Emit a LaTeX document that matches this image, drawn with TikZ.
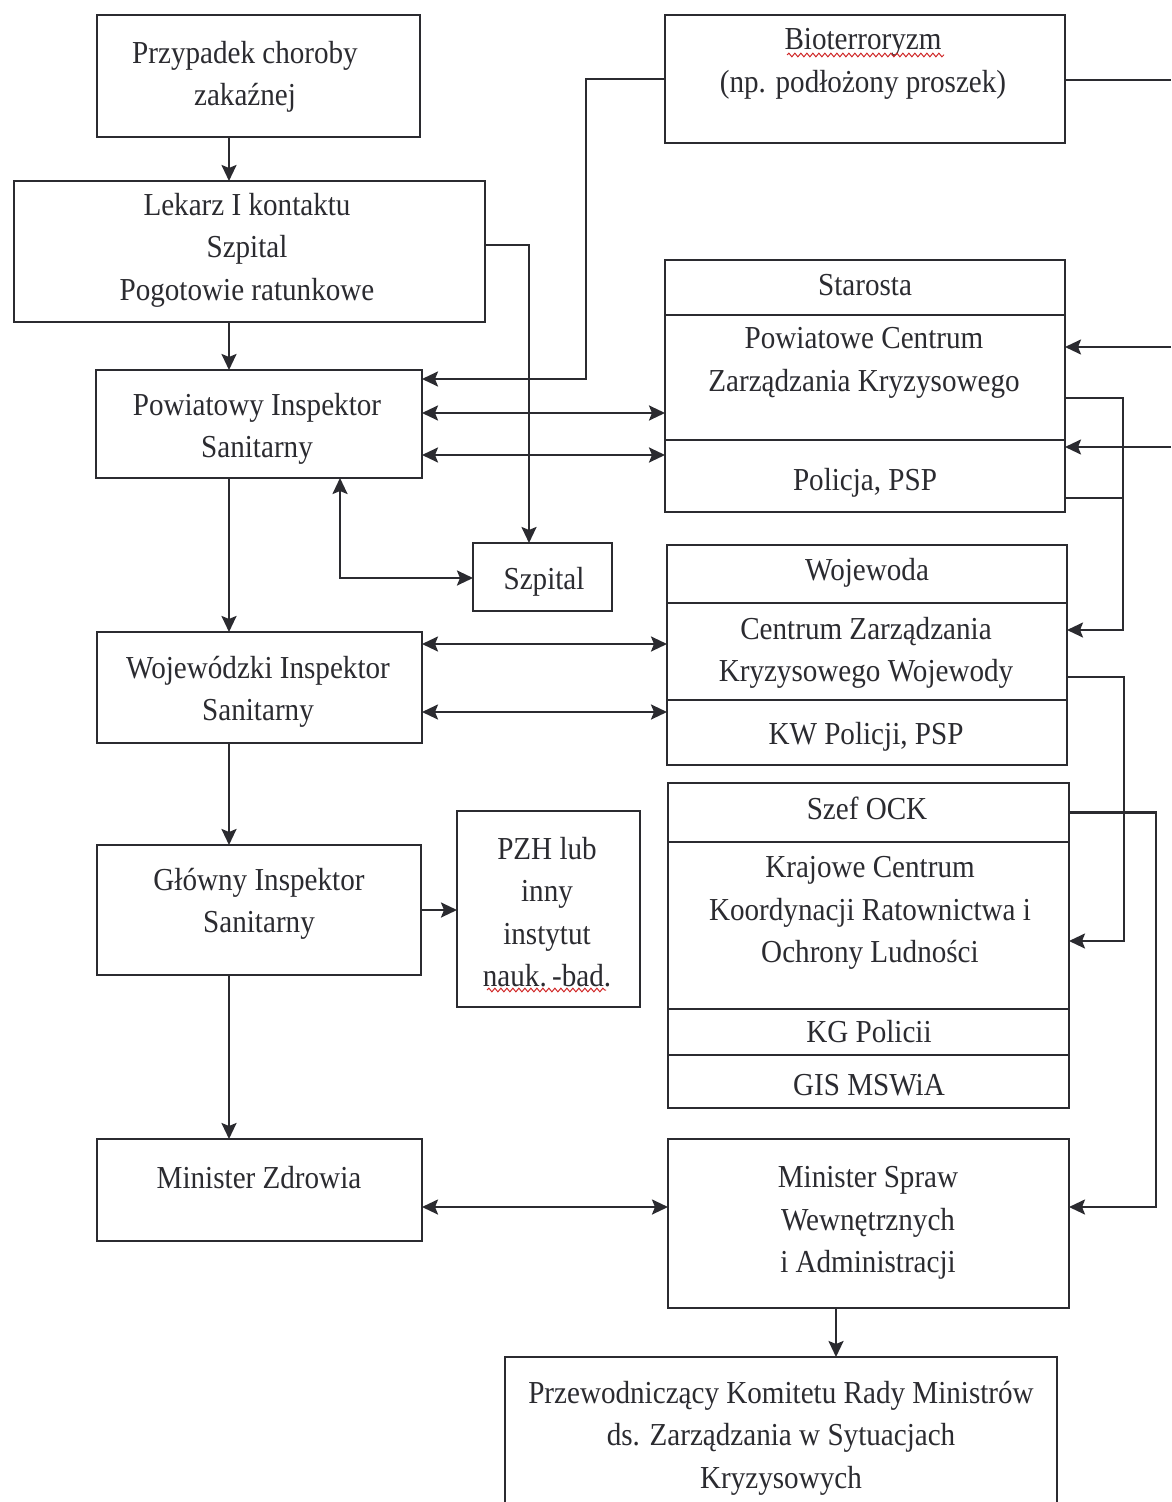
\documentclass[tikz,border=0pt]{standalone}
\usepackage{fontspec}
\setmainfont[FakeStretch=0.91]{Liberation Serif}
\usetikzlibrary{arrows.meta,decorations.pathmorphing}

\definecolor{ink}{HTML}{2B2B30}
\definecolor{spell}{HTML}{D02828}

\tikzset{
  box/.style={draw=ink, line width=1.2pt, inner sep=0pt, outer sep=0pt},
  sz/.style 2 args={minimum width=#1*0.5pt, minimum height=#2*0.5pt},
  txt/.style={align=center, inner sep=0pt, text=ink,
    font=\fontsize{16}{21.25}\selectfont},
  wire/.style={draw=ink, line width=1.2pt},
  arr/.style={wire, ->},
  darr/.style={wire, <->},
  squiggle/.style={draw=spell, line width=0.5pt, decorate,
    decoration={snake, amplitude=0.9pt, segment length=3pt}}
}

\begin{document}
\begin{tikzpicture}[x=0.5pt, y=-0.5pt,
  >={Stealth[length=8pt, width=7.5pt, inset=1.5pt]}]
\useasboundingbox (0,0) rectangle (1171,1502);
\clip (0,0) rectangle (1171,1502);
\fill[white] (0,0) rectangle (1171,1502);

% ---------- left column: sanitary chain ----------
\node[box, sz={323}{122}] (case)   at (258.5,76)    {};
\node[box, sz={471}{141}] (lekarz) at (249.5,251.5) {};
\node[box, sz={326}{108}] (pis)    at (259,424)     {};
\node[box, sz={139}{68}]  (szp)    at (542.5,577)   {};
\node[box, sz={325}{111}] (wis)    at (259.5,687.5) {};
\node[box, sz={324}{130}] (gis)    at (259,910)     {};
\node[box, sz={183}{196}] (pzh)    at (548.5,909)   {};
\node[box, sz={325}{102}] (mz)     at (259.5,1190)  {};

% ---------- right column: crisis management ----------
\node[box, sz={400}{128}] (bio)    at (865,79)      {};
\node[box, sz={400}{55}]  (staro)  at (865,287.5)   {};
\node[box, sz={400}{125}] (pczk)   at (865,377.5)   {};
\node[box, sz={400}{72}]  (pol)    at (865,476)     {};
\node[box, sz={400}{58}]  (woj)    at (867,574)     {};
\node[box, sz={400}{97}]  (czkw)   at (867,651.5)   {};
\node[box, sz={400}{65}]  (kwp)    at (867,732.5)   {};
\node[box, sz={401}{59}]  (ock)    at (868.5,812.5) {};
\node[box, sz={401}{167}] (kcr)    at (868.5,925.5) {};
\node[box, sz={401}{46}]  (kgp)    at (868.5,1032)  {};
\node[box, sz={401}{53}]  (gism)   at (868.5,1081.5){};
\node[box, sz={401}{169}] (mswia)  at (868.5,1223.5){};
\node[box, sz={552}{170}] (przew)  at (781,1442)    {};

% ---------- labels ----------
\node[txt] (case-t)   at (245,77)   {Przypadek choroby\\zakaźnej};
\node[txt] (lekarz-t) at (247,250)  {Lekarz I kontaktu\\Szpital\\Pogotowie ratunkowe};
\node[txt] (pis-t)    at (257,429)  {Powiatowy Inspektor\\Sanitarny};
\node[txt] (szp-t)    at (544,582)  {Szpital};
\node[txt] (wis-t)    at (258,692)  {Wojewódzki Inspektor\\Sanitarny};
\node[txt] (gis-t)    at (259,904)  {Główny Inspektor\\Sanitarny};
\node[txt] (pzh-t)    at (547,912)  {PZH lub\\inny\\instytut\\nauk.\,-bad.};
\node[txt] (mz-t)     at (259,1178) {Minister Zdrowia};

\node[txt] (bio-t)    at (863,64)   {Bioterroryzm\\(np. podłożony proszek)};
\node[txt] (staro-t)  at (865,285)  {Starosta};
\node[txt] (pczk-t)   at (864,363)  {Powiatowe Centrum\\Zarządzania Kryzysowego};
\node[txt] (pol-t)    at (865,483)  {Policja, PSP};
\node[txt] (woj-t)    at (867,573)  {Wojewoda};
\node[txt] (czkw-t)   at (866,653)  {Centrum Zarządzania\\Kryzysowego Wojewody};
\node[txt] (kwp-t)    at (866,737)  {KW Policji, PSP};
\node[txt] (ock-t)    at (867,808)  {Szef OCK};
\node[txt] (kcr-t)    at (870,913)  {Krajowe Centrum\\Koordynacji Ratownictwa i\\Ochrony Ludności};
\node[txt] (kgp-t)    at (869,1032) {KG Policii};
\node[txt] (gism-t)   at (869,1085) {GIS MSWiA};
\node[txt] (mswia-t)  at (868,1223) {Minister Spraw\\Wewnętrznych\\i Administracji};
\node[txt] (przew-t)  at (781,1438) {Przewodniczący Komitetu Rady Ministrów\\ds. Zarządzania w Sytuacjach\\Kryzysowych};

% spell-check underlines
\draw[squiggle] (787,55) -- (944,55);
\draw[squiggle] (487,990) -- (606,990);

% ---------- routing points ----------
\coordinate (spine)   at (229,0);
\coordinate (bioturn) at (586,379);
\coordinate (lekturn) at (529,245);
\coordinate (szturn)  at (340,578);
\coordinate (down)    at (836,0);
\coordinate (l413)    at (0,413);
\coordinate (l455)    at (0,455);
\coordinate (l644)    at (0,644);
\coordinate (l712)    at (0,712);
\coordinate (l1207)   at (0,1207);
\coordinate (l398)    at (0,398);
\coordinate (l498)    at (0,498);
\coordinate (l630)    at (0,630);
\coordinate (l677)    at (0,677);
\coordinate (l941)    at (0,941);
\coordinate (railA)   at (1123,0);
\coordinate (railB)   at (1124,0);
\coordinate (railC)   at (1156,0);
\coordinate (edgeA)   at (1171,80);
\coordinate (edgeB)   at (1171,347);
\coordinate (edgeC)   at (1171,447);

% ---------- vertical chain ----------
\draw[arr] (case.south -| spine)   -- (lekarz.north -| spine);
\draw[arr] (lekarz.south -| spine) -- (pis.north -| spine);
\draw[arr] (pis.south -| spine)    -- (wis.north -| spine);
\draw[arr] (wis.south -| spine)    -- (gis.north -| spine);
\draw[arr] (gis.south -| spine)    -- (mz.north -| spine);

% ---------- side links ----------
\draw[arr] (bio.west) -| (bioturn) -- (pis.east |- bioturn);
\draw[arr] (lekarz.east |- lekturn) -- (lekturn) -- (szp.north -| lekturn);
\draw[darr] (pis.south -| szturn) -- (szturn) -- (szp.west |- szturn);
\draw[arr] (gis.east) -- (pzh.west |- gis.east);

% ---------- cross links between columns ----------
\draw[darr] (pis.east |- l413)  -- (pczk.west |- l413);
\draw[darr] (pis.east |- l455)  -- (pol.west |- l455);
\draw[darr] (wis.east |- l644)  -- (czkw.west |- l644);
\draw[darr] (wis.east |- l712)  -- (kwp.west |- l712);
\draw[darr] (mz.east |- l1207)  -- (mswia.west |- l1207);
\draw[arr]  (mswia.south -| down) -- (przew.north -| down);

% ---------- right-hand escalation ----------
\draw[wire] (bio.east |- edgeA) -- (edgeA);
\draw[arr] (edgeB) -- (pczk.east |- edgeB);
\draw[arr] (edgeC) -- (pol.east |- edgeC);
\draw[arr] (pczk.east |- l398) -- (railA |- l398) -- (railA |- l630) -- (czkw.east |- l630);
\draw[wire] (pol.east |- l498) -- (railA |- l498);
\draw[arr] (czkw.east |- l677) -- (railB |- l677) -- (railB |- l941) -- (kcr.east |- l941);
\draw[arr] (ock.east) -- (railC |- ock.east) -- (railC |- l1207) -- (mswia.east |- l1207);
\end{tikzpicture}
\end{document}
